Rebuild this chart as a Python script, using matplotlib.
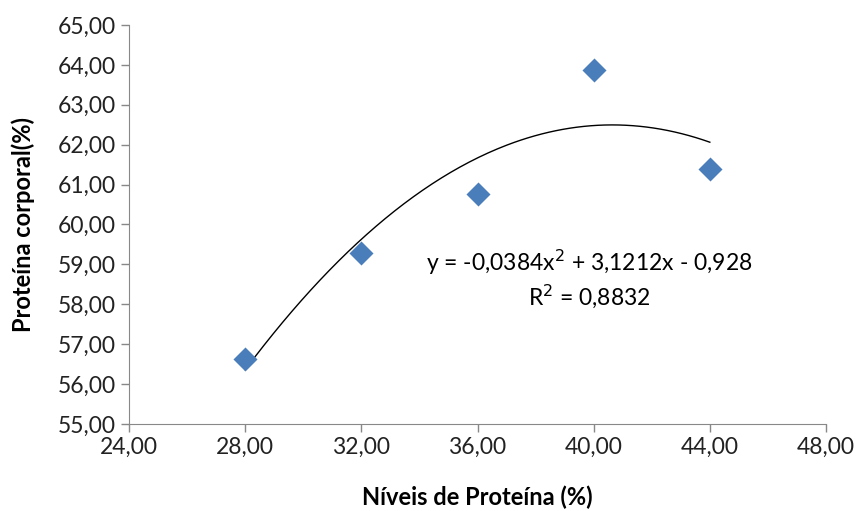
import numpy as np
import matplotlib.pyplot as plt

plt.rcParams['font.family'] = ['Lato', 'DejaVu Sans']

niveis = [28, 32, 36, 40, 44]
proteina = [56.63, 59.29, 60.77, 63.88, 61.40]
coef = [-0.0384, 3.1212, -0.928]   # trendline shown on chart
x_ticks = [24, 28, 32, 36, 40, 44, 48]
y_ticks = [55, 56, 57, 58, 59, 60, 61, 62, 63, 64, 65]


def fmt(v):
    return f"{v:.2f}".replace('.', ',')


fig = plt.figure(figsize=(8.59, 5.11), dpi=100)
ax = fig.add_axes([129 / 859, 1 - 424 / 511, (826 - 129) / 859, (424 - 25) / 511])

xs = np.linspace(niveis[0], niveis[-1], 200)
ax.plot(xs, np.polyval(coef, xs), color='black', lw=1.0, zorder=2)
ax.scatter(niveis, proteina, marker='D', s=150, color='#4a7ebb', zorder=3, linewidths=0)

ax.set_xlim(24, 48)
ax.set_ylim(55, 65)
ax.set_xticks(x_ticks)
ax.set_yticks(y_ticks)
ax.set_xticklabels([fmt(v) for v in x_ticks])
ax.set_yticklabels([fmt(v) for v in y_ticks])
ax.tick_params(labelsize=16.5, color='#888888', length=6, width=1, labelcolor='#222222')

for s in ['top', 'right']:
    ax.spines[s].set_visible(False)
for s in ['left', 'bottom']:
    ax.spines[s].set_color('#888888')

ax.set_xlabel('Níveis de Proteína (%)', fontsize=17, fontweight='bold', labelpad=20)
ax.set_ylabel('Proteína corporal(%)', fontsize=17, fontweight='bold', labelpad=16)

ax.text(39.85, 59.06, 'y = -0,0384x$^2$ + 3,1212x - 0,928', fontsize=16.5, ha='center', va='center')
ax.text(39.85, 58.2, 'R$^2$ = 0,8832', fontsize=16.5, ha='center', va='center')

fig.savefig('out.png', dpi=100)
